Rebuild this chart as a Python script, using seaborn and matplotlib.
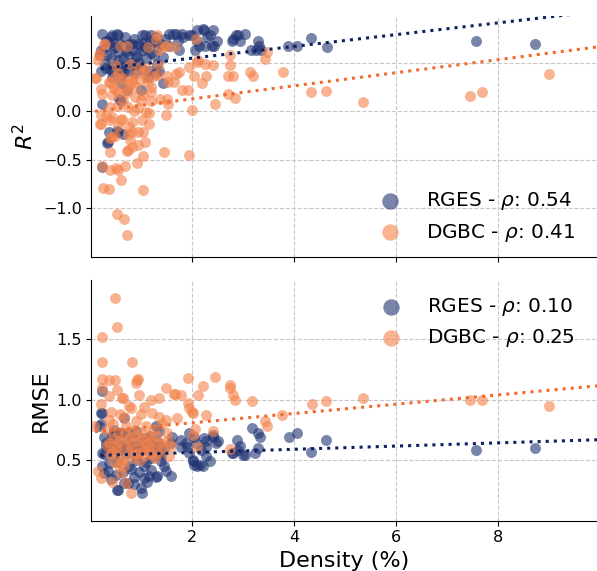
import matplotlib
matplotlib.use("Agg")
import matplotlib.pyplot as plt
import numpy as np
import pandas as pd
import seaborn as sns

# ---------------- data ----------------
# Top panel: R^2 vs density (%)
r2_rges_x = [0.22, 0.40, 0.42, 0.53, 0.55, 0.68, 0.30, 0.35, 0.46, 0.48, 0.64, 0.76, 0.81, 0.94,
             1.02, 1.07, 1.19, 1.17, 1.06, 1.25, 1.04, 1.09, 1.20, 1.32, 1.42, 1.46, 1.55, 1.63,
             1.68, 1.79, 1.81, 1.73, 1.94, 1.99, 2.09, 2.10, 2.22, 2.24, 2.35, 2.40, 2.30, 2.48,
             2.14, 2.25, 2.38, 2.43, 2.05, 1.74, 1.55, 2.80, 2.86, 2.90, 3.03, 2.93, 2.79, 3.16,
             3.29, 3.31, 3.26, 3.35, 3.89, 4.05, 4.34, 4.64, 7.57, 8.73,
             0.19, 0.20, 0.28, 0.33, 0.28, 0.38, 0.55, 0.55, 0.61, 0.74, 0.87, 1.01, 1.17, 1.30,
             0.91, 0.74, 0.82, 0.89, 0.20, 0.43, 0.66, 0.69, 1.35, 0.60, 1.42, 0.61, 0.99,
             0.45, 0.58, 0.70, 0.85, 0.98, 1.12, 1.28, 1.38, 0.50, 0.95, 1.10, 0.40, 0.65, 1.25,
             0.80, 0.30,
             0.22, 0.56, 0.61, 0.37, 0.53, 0.55, 0.64, 0.35, 0.33, 0.23,
             0.42, 0.62, 0.88, 1.13, 1.28, 0.72]
r2_rges_y = [0.80, 0.77, 0.79, 0.80, 0.79, 0.77, 0.73, 0.73, 0.65, 0.66, 0.68, 0.70, 0.70, 0.70,
             0.79, 0.79, 0.79, 0.73, 0.72, 0.72, 0.63, 0.65, 0.60, 0.665, 0.56, 0.75, 0.80, 0.80,
             0.80, 0.80, 0.77, 0.73, 0.79, 0.79, 0.73, 0.84, 0.855, 0.84, 0.79, 0.84, 0.77, 0.73,
             0.68, 0.68, 0.68, 0.68, 0.63, 0.63, 0.68, 0.75, 0.79, 0.79, 0.80, 0.73, 0.73, 0.63,
             0.73, 0.68, 0.63, 0.63, 0.675, 0.675, 0.76, 0.66, 0.73, 0.70,
             0.58, 0.63, 0.65, 0.58, 0.49, 0.44, 0.53, 0.61, 0.44, 0.42, 0.475, 0.44, 0.42, 0.49,
             0.56, 0.58, 0.63, 0.58, 0.42, 0.42, 0.42, 0.48, 0.42, 0.37, 0.29, 0.29, 0.22,
             0.72, 0.70, 0.62, 0.75, 0.68, 0.68, 0.77, 0.70, 0.48, 0.50, 0.55, 0.55, 0.55, 0.58,
             0.50, 0.45,
             0.08, 0.13, 0.11, -0.21, -0.20, -0.21, -0.23, -0.32, -0.33, -0.58,
             0.35, 0.38, 0.40, 0.35, 0.40, 0.22]

r2_dgbc_x = [0.09, 0.12, 0.15, 0.17, 0.19, 0.27, 0.28, 0.20, 0.22, 0.37, 0.38, 0.48, 0.48, 0.50,
             0.58, 0.60, 0.64, 0.69, 0.71, 0.71, 0.77, 0.81, 0.82, 0.87, 0.96, 0.97, 1.04, 1.04,
             1.09, 1.14, 1.14, 1.19, 1.20, 1.25, 1.29, 1.30, 1.32, 1.35, 1.37, 1.46, 1.48, 1.51,
             1.53, 1.53, 1.51, 1.65, 1.66, 1.69, 1.74, 1.79, 1.92, 1.94, 2.04, 2.07, 2.10, 2.12,
             2.25, 2.27, 2.19, 2.41, 2.74, 2.74, 2.70, 2.81, 2.71, 2.84, 3.13, 3.19, 3.43, 3.46,
             3.78, 2.45, 1.99, 1.48, 4.34, 4.62, 5.35, 7.45, 7.69, 9.01,
             0.38, 0.55, 0.74, 0.94, 1.10, 0.42, 0.55, 0.19, 0.20, 0.38, 0.43, 0.61, 0.63, 0.76,
             0.81, 1.01, 1.15, 0.20,
             0.48, 0.74, 0.94, 0.82, 1.04, 0.38, 0.43, 0.77, 1.07, 0.94, 0.81, 0.71, 0.38, 1.04,
             1.45, 1.94, 0.23, 0.38, 0.55, 0.50, 0.68, 0.91, 0.61, 0.25, 0.36, 1.04, 0.53, 0.67,
             0.72, 0.73,
             0.45, 0.65, 0.85, 0.90, 1.00, 1.20, 1.30, 0.55, 0.75, 1.10,
             0.30, 0.55, 0.85, 1.15]
r2_dgbc_y = [0.34, 0.34, 0.53, 0.58, 0.60, 0.70, 0.70, 0.23, 0.18, 0.30, 0.29, 0.475, 0.355, 0.22,
             0.68, 0.32, 0.34, 0.22, 0.68, 0.20, 0.49, 0.32, 0.29, 0.15, 0.46, 0.32, 0.41, 0.165,
             0.35, 0.665, 0.30, 0.25, 0.11, 0.37, 0.75, 0.79, 0.48, 0.63, 0.13, 0.68, 0.68, 0.37,
             0.30, 0.08, 0.13, 0.30, 0.665, 0.39, 0.41, 0.22, 0.22, 0.46, 0.37, 0.75, 0.51, 0.53,
             0.49, 0.37, 0.29, 0.475, 0.58, 0.475, 0.37, 0.37, 0.18, 0.14, 0.41, 0.37, 0.545, 0.61,
             0.41, 0.08, 0.01, -0.04, 0.196, 0.21, 0.10, 0.155, 0.196, 0.39,
             0.045, 0.06, 0.045, 0.03, -0.01, 0.165, 0.20, -0.13, -0.04, -0.09, -0.06, -0.09, -0.075, -0.16,
             -0.11, -0.09, -0.13, -0.135,
             -0.25, -0.23, -0.21, -0.21, -0.21, -0.28, -0.27, -0.30, -0.32, -0.35, -0.37, -0.41, -0.42, -0.465,
             -0.42, -0.45, -0.56, -0.61, -0.61, -0.59, -0.56, -0.53, -0.71, -0.79, -0.80, -0.81, -1.065, -1.11,
             -1.28, -0.40,
             0.25, 0.12, 0.38, 0.25, 0.12, 0.20, 0.38, 0.40, 0.28, 0.45,
             -0.05, -0.15, 0.00, -0.02]

# Bottom panel: RMSE vs density (%)
rmse_rges_x = [0.23, 0.23, 0.20, 0.17, 0.20, 0.27, 0.31, 0.30, 0.23, 0.26, 0.37, 0.23, 0.34, 0.27,
               0.40, 0.53, 0.55, 0.66, 0.73, 0.86, 0.99, 1.02, 1.12, 1.15, 1.29, 1.31, 1.48, 1.58,
               1.45, 1.39, 1.35, 1.29, 1.35, 1.61, 1.58, 1.78, 1.78, 1.88, 1.90, 1.94, 2.04, 2.07,
               2.24, 2.27, 2.40, 2.47, 2.51, 2.41, 2.28, 2.18, 2.28, 2.35, 2.15, 2.21, 2.02, 2.01,
               2.10, 2.04, 1.94, 2.79, 2.87, 2.94, 2.81, 3.04, 2.89, 2.99, 3.17, 3.30, 3.33, 3.30,
               3.23, 3.90, 4.05, 4.34, 4.63, 7.57, 8.73, 0.66, 1.19, 1.06, 0.92, 0.79, 1.38,
               0.45, 0.55, 0.60, 0.70, 0.75, 0.85, 0.95, 1.00, 1.10, 1.20, 1.25, 0.50, 0.65, 0.85,
               1.05, 0.40, 0.48, 0.58, 0.90, 1.15,
               0.35, 0.42, 0.50, 0.57, 0.63, 0.70, 0.77, 0.83, 0.90, 0.97, 1.03, 1.10, 1.17, 1.23,
               1.30, 1.37, 1.44, 0.46, 0.74, 1.06]
rmse_rges_y = [1.07, 0.89, 0.89, 0.78, 0.80, 0.695, 0.64, 0.61, 0.56, 0.55, 0.475, 0.45, 0.41, 0.39,
               0.34, 0.255, 0.25, 0.31, 0.31, 0.30, 0.27, 0.23, 0.32, 0.365, 0.36, 0.365, 0.41, 0.365,
               0.45, 0.49, 0.56, 0.78, 0.74, 0.695, 0.64, 0.67, 0.61, 0.64, 0.61, 0.72, 0.695, 0.64,
               0.68, 0.61, 0.71, 0.64, 0.655, 0.695, 0.655, 0.585, 0.53, 0.49, 0.46, 0.45, 0.49, 0.50,
               0.45, 0.46, 0.56, 0.56, 0.67, 0.62, 0.56, 0.545, 0.585, 0.545, 0.765, 0.72, 0.69, 0.60,
               0.56, 0.695, 0.72, 0.57, 0.668, 0.585, 0.60, 0.85, 0.52, 0.45, 0.53, 0.43, 0.53,
               0.55, 0.48, 0.62, 0.55, 0.45, 0.62, 0.40, 0.58, 0.48, 0.42, 0.62, 0.38, 0.40, 0.36,
               0.35, 0.60, 0.70, 0.72, 0.50, 0.66,
               0.62, 0.70, 0.66, 0.58, 0.72, 0.64, 0.60, 0.68, 0.74, 0.62, 0.66, 0.60, 0.70, 0.58,
               0.66, 0.62, 0.60, 0.75, 0.72, 0.68]

rmse_dgbc_x = [0.48, 0.53, 0.23, 0.22, 0.82, 0.23, 0.37, 0.48, 0.23, 0.53, 0.92, 0.89, 0.63, 0.37,
               0.20, 0.96, 1.06, 0.79, 1.19, 1.35, 1.48, 1.65, 1.78, 1.91, 2.45, 2.22, 2.12, 2.74,
               2.74, 2.81, 2.84, 3.17, 1.91, 1.94, 1.99, 2.01, 2.28, 1.71, 1.48, 1.35, 1.22, 0.07,
               0.66, 0.37, 2.41, 2.05, 2.02, 3.43, 3.46, 3.77, 2.74, 2.09, 1.55, 0.14, 0.20, 0.43,
               0.60, 0.69, 0.79, 0.56, 0.37, 0.43, 4.35, 4.62, 5.35, 7.45, 7.69, 9.01,
               0.30, 0.45, 0.55, 0.60, 0.70, 0.75, 0.80, 0.85, 0.90, 0.95, 1.00, 1.05, 1.10, 1.15,
               1.25, 1.30, 1.40, 1.50, 0.50, 0.65, 0.88, 1.20, 0.40, 0.75, 1.00, 0.58, 1.12,
               0.94, 1.66, 0.64,
               0.32, 0.38, 0.44, 0.52, 0.57, 0.62, 0.68, 0.72, 0.78, 0.83, 0.87, 0.93, 0.98, 1.03,
               1.08, 1.14, 1.18, 1.24, 1.28, 1.33, 1.38, 1.44, 1.52, 1.58, 0.47, 0.66, 0.97, 1.26]
rmse_dgbc_y = [1.84, 1.60, 1.52, 1.31, 1.31, 1.17, 1.16, 1.16, 1.10, 1.08, 1.16, 1.14, 1.01, 1.03,
               0.96, 1.04, 0.94, 0.93, 1.00, 1.01, 1.095, 1.05, 1.04, 1.18, 1.19, 1.11, 1.04, 1.12,
               1.10, 1.04, 1.00, 0.985, 0.97, 0.93, 0.90, 0.89, 0.875, 0.85, 0.83, 0.86, 0.89, 0.78,
               0.86, 0.83, 0.74, 0.76, 0.71, 0.82, 0.78, 0.874, 0.59, 0.61, 0.53, 0.41, 0.35, 0.32,
               0.39, 0.31, 0.23, 0.45, 0.64, 0.56, 0.96, 0.99, 1.01, 1.00, 0.998, 0.95,
               0.75, 0.80, 0.72, 0.65, 0.78, 0.68, 0.60, 0.75, 0.82, 0.66, 0.72, 0.58, 0.78, 0.70,
               0.75, 0.64, 0.80, 0.72, 0.60, 0.52, 0.55, 0.55, 0.90, 0.95, 0.88, 0.88, 0.63,
               1.17, 1.05, 1.01,
               0.62, 0.55, 0.68, 0.58, 0.66, 0.50, 0.72, 0.58, 0.64, 0.52, 0.70, 0.56, 0.62, 0.68,
               0.54, 0.60, 0.66, 0.58, 0.70, 0.56, 0.64, 0.60, 0.66, 0.62, 0.48, 0.45, 0.50, 0.52]

# Trend lines as shown in the reference (values read at the line ends)
fit_x_rges = [0.20, 9.95]
fit_x_dgbc = [0.09, 9.95]
fit_r2_rges = [0.440, 1.032]
fit_r2_dgbc = [0.000, 0.665]
fit_rmse_rges = [0.539, 0.668]
fit_rmse_dgbc = [0.735, 1.114]

series_names = ["RGES", "DGBC"]
rho_r2 = ["0.54", "0.41"]
rho_rmse = ["0.10", "0.25"]
x_ticks = [2, 4, 6, 8]
r2_ticks = [-1.0, -0.5, 0.0, 0.5]
rmse_ticks = [0.5, 1.0, 1.5]

point_colors = {"RGES": "#1e3272", "DGBC": "#f4824a"}
line_colors = {"RGES": "#0f1f63", "DGBC": "#f26a2c"}

# ---------------- figure ----------------
sns.set_style("ticks")
plt.rcParams["font.family"] = ["DejaVu Sans"]
for k in ["text.color", "axes.labelcolor", "xtick.color", "ytick.color", "axes.edgecolor"]:
    plt.rcParams[k] = "black"

W, H = 597, 571
fig = plt.figure(figsize=(W / 100, H / 100), dpi=100)
left = 91.4 / W
width = (W - 91.4) / W
ax1 = fig.add_axes([left, 1 - 256.5 / H, width, (256.5 - 15.5) / H])
ax2 = fig.add_axes([left, 1 - 520.5 / H, width, (520.5 - 280) / H], sharex=ax1)

xlim = (0.02, 9.95)

panels = [
    (ax1, [(r2_rges_x, r2_rges_y), (r2_dgbc_x, r2_dgbc_y)],
     [(fit_x_rges, fit_r2_rges), (fit_x_dgbc, fit_r2_dgbc)], rho_r2, (-1.5, 0.99)),
    (ax2, [(rmse_rges_x, rmse_rges_y), (rmse_dgbc_x, rmse_dgbc_y)],
     [(fit_x_rges, fit_rmse_rges), (fit_x_dgbc, fit_rmse_dgbc)], rho_rmse, (0.0, 1.99)),
]

for ax, data, fits, rhos, ylim in panels:
    for name, (xs, ys), rho in zip(series_names, data, rhos):
        df = pd.DataFrame({"x": xs, "y": ys})
        sns.regplot(data=df, x="x", y="y", ax=ax, fit_reg=False,
                    color=point_colors[name],
                    scatter_kws=dict(s=62, alpha=0.6, linewidths=0),
                    label=f"{name} - $\\rho$: {rho}")
    for name, (fx, fy) in zip(series_names, fits):
        sns.lineplot(x=fx, y=fy, ax=ax, color=line_colors[name], ls=":", lw=2.2,
                     legend=False)
    ax.set_xlim(*xlim)
    ax.set_ylim(*ylim)
    ax.set_axisbelow(True)
    ax.grid(True, ls="--", color="#c8c8c8", lw=0.8)
    sns.despine(ax=ax)
    ax.tick_params(labelsize=11.5, colors="black")

ax1.set_yticks(r2_ticks)
ax2.set_yticks(rmse_ticks)
ax1.set_xticks(x_ticks)
plt.setp(ax1.get_xticklabels(), visible=False)
ax1.set_xlabel("")
ax1.set_ylabel("$R^2$", fontsize=16)
ax2.set_ylabel("RMSE", fontsize=16)
ax2.set_xlabel("Density (%)", fontsize=16)
fig.align_ylabels([ax1, ax2])

axw = W - 91.4
h, l = ax1.get_legend_handles_labels()
ax1.legend(h[:2], l[:2], loc="lower right", frameon=False, fontsize=14.4, markerscale=1.5,
           handletextpad=0.8, borderaxespad=0.25, labelspacing=0.45,
           bbox_to_anchor=(1 - 9 / axw, 0.0))
h, l = ax2.get_legend_handles_labels()
ax2.legend(h[:2], l[:2], loc="upper right", frameon=False, fontsize=14.4, markerscale=1.5,
           handletextpad=0.8, borderaxespad=0.25, labelspacing=0.45,
           bbox_to_anchor=(1 - 9 / axw, 1 - 3 / 240.5))

fig.savefig("out.png", dpi=100)
